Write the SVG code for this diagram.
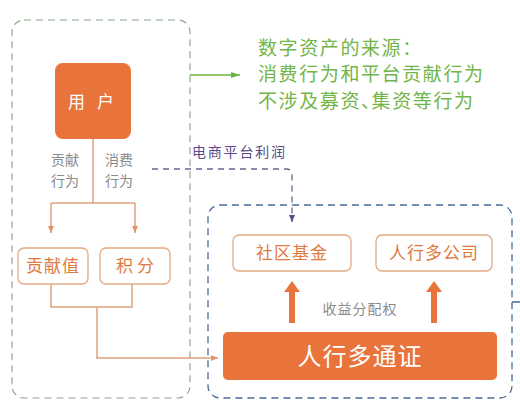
<svg xmlns="http://www.w3.org/2000/svg" width="520" height="411" viewBox="0 0 520 411">
<defs>
<style>
text{font-family:"Noto Sans CJK SC","Noto Sans",sans-serif;}
.orange{fill:#E8743B;}
.ln{fill:none;stroke:#E0A27C;stroke-width:1.5;}
.sub{fill:#fff;stroke:#E3A982;stroke-width:1.3;}
.subt{fill:#E07A3F;font-size:17px;text-anchor:middle;}
.gray{fill:#8A8A8A;font-size:14px;}
.green{fill:#72B548;font-size:19px;letter-spacing:1.6px;}
</style>
<marker id="ao" markerWidth="8" markerHeight="8" refX="7" refY="4" orient="auto" markerUnits="userSpaceOnUse"><path d="M0,1 L7,4 L0,7 Z" fill="#E0946A"/></marker>
<marker id="ag" markerWidth="10" markerHeight="8" refX="9" refY="4" orient="auto" markerUnits="userSpaceOnUse"><path d="M0,1 L9,4 L0,7 Z" fill="#6DB33F"/></marker>
<marker id="ap" markerWidth="8" markerHeight="8" refX="7" refY="4" orient="auto" markerUnits="userSpaceOnUse"><path d="M0,1 L7,4 L0,7 Z" fill="#5A4A8A"/></marker>
</defs>
<rect width="520" height="411" fill="#fff"/>

<g id="source-container">
<rect x="12" y="20" width="178" height="378" rx="12" fill="none" stroke="#8AA88A" stroke-width="1.2" stroke-dasharray="7,5"/>
</g>
<g id="token-container">
<rect x="208" y="205" width="304" height="193" rx="12" fill="none" stroke="#4A6A98" stroke-width="1.3" stroke-dasharray="7,5"/>
</g>

<g id="connectors">
<line x1="190" y1="75" x2="240" y2="75" stroke="#6DB33F" stroke-width="1.5" marker-end="url(#ag)"/>
<path class="ln" d="M93,139 V203"/>
<path class="ln" d="M51,203 H135"/>
<path class="ln" d="M51,203 V233" marker-end="url(#ao)"/>
<path class="ln" d="M135,203 V233" marker-end="url(#ao)"/>
<path class="ln" d="M51,284 V307 H132 V284"/>
<path class="ln" d="M97,307 V358 H218" marker-end="url(#ao)"/>
<path d="M152,169 H286 Q292,169 292,175 V222" fill="none" stroke="#6A6490" stroke-width="1.3" stroke-dasharray="6,5" marker-end="url(#ap)"/>
<path d="M292,323 V290" stroke="#E8743B" stroke-width="6" fill="none"/>
<path d="M284,292 L292,281 L300,292 Z" fill="#E8743B"/>
<path d="M434,323 V290" stroke="#E8743B" stroke-width="6" fill="none"/>
<path d="M426,292 L434,281 L442,292 Z" fill="#E8743B"/>
<line x1="512" y1="302" x2="520" y2="302" stroke="#4A6A98" stroke-width="1.5"/>
</g>

<g id="user">
<rect class="orange" x="55" y="63" width="76" height="76" rx="8"/>
<text x="93" y="108" fill="#fff" font-size="17" text-anchor="middle" letter-spacing="4">用 户</text>
</g>
<g id="label-contrib">
<text class="gray" x="51" y="165">贡献</text>
<text class="gray" x="51" y="186">行为</text>
</g>
<g id="label-consume">
<text class="gray" x="105" y="165">消费</text>
<text class="gray" x="105" y="186">行为</text>
</g>
<g id="contrib-value">
<rect class="sub" x="18" y="248" width="70" height="36" rx="6"/>
<text class="subt" x="53" y="272" letter-spacing="1">贡献值</text>
</g>
<g id="points">
<rect class="sub" x="100" y="248" width="70" height="36" rx="6"/>
<text class="subt" x="135" y="272">积 分</text>
</g>
<g id="source-note">
<text class="green" x="258" y="55">数字资产的来源：</text>
<text class="green" x="258" y="81">消费行为和平台贡献行为</text>
<text class="green" x="258" y="108">不涉及募资、<tspan dx="-10">集资等行为</tspan></text>
</g>
<g id="ecommerce-label">
<text x="192" y="157" fill="#5A4A8A" font-size="14" letter-spacing="1.8">电商平台利润</text>
</g>
<g id="community-fund">
<rect class="sub" x="233" y="235" width="118" height="36" rx="6"/>
<text class="subt" x="292" y="259" letter-spacing="1">社区基金</text>
</g>
<g id="company">
<rect class="sub" x="376" y="235" width="116" height="36" rx="6"/>
<text class="subt" x="434" y="259" letter-spacing="1">人行多公司</text>
</g>
<g id="revenue-label">
<text class="gray" x="360" y="314" text-anchor="middle" font-size="15" letter-spacing="1">收益分配权</text>
</g>
<g id="token">
<rect class="orange" x="223" y="332" width="274" height="48" rx="5"/>
<text x="360" y="365" fill="#fff" font-size="24" text-anchor="middle" letter-spacing="1">人行多通证</text>
</g>
</svg>
